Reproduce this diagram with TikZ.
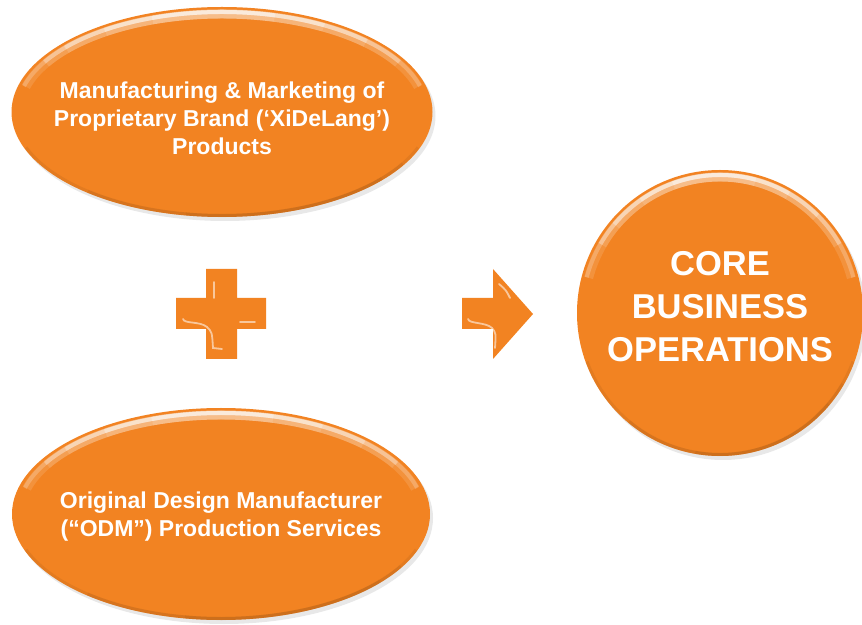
\documentclass[tikz,border=0pt]{standalone}
\usepackage{fontspec}
\setmainfont{Liberation Sans}
\usepackage{tikz}
\usetikzlibrary{shapes.geometric}
\usetikzlibrary{shadows}
\definecolor{corange}{HTML}{F28322}
\tikzstyle{bubble}=[shape=ellipse, fill=corange, inner sep=0pt, drop shadow={opacity=0.18, shadow xshift=3pt, shadow yshift=-4pt}]
\tikzstyle{bubbletext}=[text=white, inner sep=0pt, align=center, font=\bfseries\fontsize{23}{28}\selectfont]
\tikzstyle{coretext}=[text=white, inner sep=0pt, align=center, font=\bfseries\fontsize{34.5}{43}\selectfont]
\tikzstyle{gloss}=[white, line width=4pt, opacity=0.22]
\tikzstyle{glosshalo}=[white, line width=9pt, opacity=0.12]
\tikzstyle{glint}=[white, line width=1.8pt, opacity=0.55, line cap=round]
\tikzstyle{darkrim}=[corange!70!black, line width=3pt, opacity=0.2]

\begin{document}
\begin{tikzpicture}[x=1pt, y=1pt]
\useasboundingbox (0,0) rectangle (862,624);
\node [bubble, minimum width=421pt, minimum height=210pt] (brand) at (222,512) {};
\node [bubble, minimum width=418pt, minimum height=212pt] (odm) at (221,110) {};
\node [bubble, shape=circle, minimum size=286pt] (core) at (720,311) {};

\node [bubbletext] (brandtext) at ([yshift=-6pt]brand.center) {Manufacturing \& Marketing of\\ Proprietary Brand (‘XiDeLang’)\\ Products};
\node [bubbletext] (odmtext) at ([yshift=-3pt]odm.center) {Original Design Manufacturer\\ (“ODM”) Production Services};
\node [coretext] (coretxt) at ([yshift=6pt]core.center) {CORE\\ BUSINESS\\ OPERATIONS};

% gloss along the upper rims
\foreach \a/\b in {15/165, 30/150, 45/140, 60/125, 75/110} {
  \draw[glosshalo] ([shift={(\a:203pt and 98pt)}]brand.center) arc [start angle=\a, end angle=\b, x radius=203pt, y radius=98pt];
  \draw[gloss] ([shift={(\a:205pt and 100pt)}]brand.center) arc [start angle=\a, end angle=\b, x radius=205pt, y radius=100pt];
  \draw[glosshalo] ([shift={(\a:201pt and 99pt)}]odm.center) arc [start angle=\a, end angle=\b, x radius=201pt, y radius=99pt];
  \draw[gloss] ([shift={(\a:203pt and 101pt)}]odm.center) arc [start angle=\a, end angle=\b, x radius=203pt, y radius=101pt];
  \draw[glosshalo] ([shift={(\a:136pt)}]core.center) arc [start angle=\a, end angle=\b, radius=136pt];
  \draw[gloss] ([shift={(\a:138pt)}]core.center) arc [start angle=\a, end angle=\b, radius=138pt];
}
% darker lower rims
\foreach \a/\b in {200/340, 230/330, 260/320} {
  \draw[darkrim] ([shift={(\a:208.5pt and 103.5pt)}]brand.center) arc [start angle=\a, end angle=\b, x radius=208.5pt, y radius=103.5pt];
  \draw[darkrim] ([shift={(\a:207.5pt and 104.5pt)}]odm.center) arc [start angle=\a, end angle=\b, x radius=207.5pt, y radius=104.5pt];
  \draw[darkrim] ([shift={(\a:141.5pt)}]core.center) arc [start angle=\a, end angle=\b, radius=141.5pt];
}

% plus and arrow
\fill[corange] (206,265) -- (237,265) -- (237,295) -- (266,295) -- (266,326) -- (237,326) -- (237,355) -- (206,355) -- (206,326) -- (176,326) -- (176,295) -- (206,295) -- cycle;
\fill[corange] (462,295) -- (493,295) -- (493,265) -- (533,310) -- (493,355) -- (493,326) -- (462,326) -- cycle;
\draw[glint] (183,305) .. controls (184,300) and (200,303) .. (207,297) .. controls (212,292) .. (213,276) -- (222,275);
\draw[glint] (214,342) -- (214,326);
\draw[glint] (240,302) -- (255,302);
\draw[glint] (468,305) .. controls (469,300) and (486,302) .. (492,296) .. controls (496,291) .. (495,276);
\draw[glint] (499,340) .. controls (506,334) .. (510,326);
\end{tikzpicture}
\end{document}
